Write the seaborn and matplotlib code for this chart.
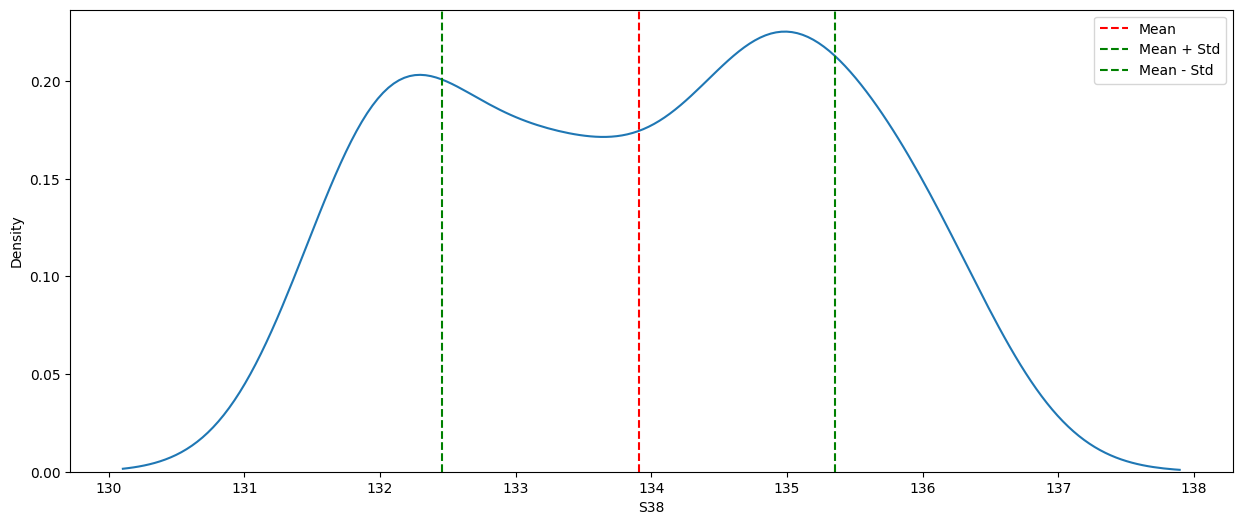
import pandas as pd
import matplotlib
matplotlib.use("Agg")
import matplotlib.pyplot as plt
import seaborn as sns

# ==========================================
# DATOS: lecturas del sensor S38
# ==========================================
s38_values = [
    131.96, 131.96, 131.97, 131.97, 131.97, 131.97, 131.97, 131.97, 131.97, 131.97,
    131.97, 131.98, 131.98, 131.99, 132.00, 132.12, 132.25, 132.41, 132.57, 132.71,
    132.83, 132.94, 133.03, 133.10, 133.16, 133.21, 133.27, 133.32, 133.37, 133.44,
    133.51, 133.59, 133.69, 133.79, 133.91, 134.03, 134.16, 134.29, 134.40, 134.50,
    134.58, 134.66, 134.72, 134.77, 134.81, 134.85, 134.88, 134.91, 134.94, 134.97,
    134.99, 135.03, 135.06, 135.10, 135.14, 135.19, 135.24, 135.32, 135.43, 135.59,
    135.79, 136.04, 136.04, 136.04, 136.04, 136.04, 136.04, 136.04, 136.04, 136.04,
]

df = pd.DataFrame({"S38": s38_values})

mean = df["S38"].mean()
std = df["S38"].std()

# ==========================================
# GRAFICA
# ==========================================
plt.figure(figsize=(15, 6))
sns.kdeplot(data=df, x="S38")

plt.axvline(mean, color="red", linestyle="--", label="Mean")
plt.axvline(mean + std, color="green", linestyle="--", label="Mean + Std")
plt.axvline(mean - std, color="green", linestyle="--", label="Mean - Std")

plt.legend()
plt.savefig("out.png", dpi=100, bbox_inches="tight")
plt.close()
